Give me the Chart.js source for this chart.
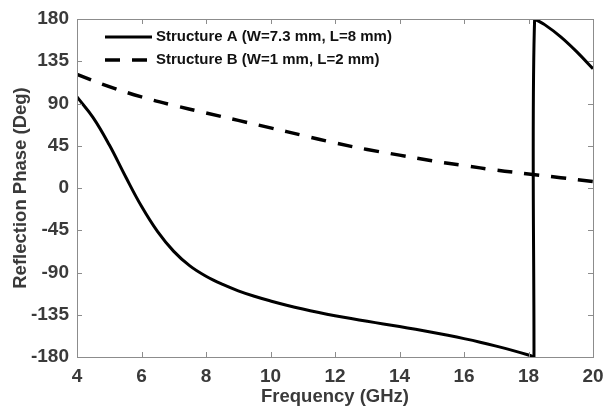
<!DOCTYPE html>
<html>
<head>
<meta charset="utf-8">
<script src="https://cdn.jsdelivr.net/npm/chart.js@4"></script>
<style>
  html, body { margin: 0; padding: 0; background: #fff; }
  #wrap { width: 604px; height: 412px; }
</style>
</head>
<body>
<div id="wrap"><canvas id="chart" width="604" height="412"></canvas></div>
<script>
// Structure A, lower branch: frequency (GHz) and reflection phase (deg) up to the wrap at ~18.2 GHz
const freqA1  = [4.0, 4.5, 5.0, 5.5, 6.0, 6.5, 7.0, 7.5, 8.0, 8.5, 9.0, 9.5, 10.0, 10.5, 11.0, 11.5, 12.0, 12.5, 13.0, 13.5, 14.0, 14.5, 15.0, 15.5, 16.0, 16.5, 17.0, 17.5, 18.0, 18.17];
const phaseA1 = [97, 75, 46, 12.5, -19.5, -46.5, -67.5, -83, -94, -102.5, -109.5, -115.3, -120.3, -124.8, -128.9, -132.6, -136, -139.1, -142, -144.8, -147.6, -150.5, -153.6, -156.9, -160.4, -164.2, -168.4, -172.9, -177.9, -180];

// Structure A, after the wrap (starts with the vertical jump)
const freqA2  = [18.17, 18.19, 18.5, 19.0, 19.5, 20.0];
const phaseA2 = [-180, 180, 174, 161, 145, 127];

// Structure B
const freqB  = [4, 5, 6, 7, 8, 9, 10, 11, 12, 13, 14, 15, 16, 17, 18, 19, 20];
const phaseB = [121, 108, 97, 88, 80, 72, 64, 56, 48, 41, 35, 29, 24, 19, 15, 11, 7];

const xTicks = [4, 6, 8, 10, 12, 14, 16, 18, 20];
const yTicks = [-180, -135, -90, -45, 0, 45, 90, 135, 180];

const labelA = 'Structure A (W=7.3 mm, L=8 mm)';
const labelB = 'Structure B (W=1 mm, L=2 mm)';

const toPoints = (xs, ys) => xs.map((x, i) => ({ x: x, y: ys[i] }));

const axisGray = '#8c8c8c';
const fontFamily = 'Liberation Sans, Arial, sans-serif';
const tickFont = { family: fontFamily, size: 19, weight: 'bold' };
const titleFont = { family: fontFamily, size: 18.5, weight: 'bold' };

// MATLAB-like box with inward ticks on all four sides, plus the legend
const boxPlugin = {
    id: 'box',
    afterDatasetsDraw(chart) {
        const { ctx, chartArea: a, scales } = chart;
        ctx.save();
        ctx.strokeStyle = axisGray;
        ctx.lineWidth = 1;
        ctx.beginPath();
        xTicks.forEach(v => {
            const px = Math.round(scales.x.getPixelForValue(v)) + 0.5;
            ctx.moveTo(px, a.bottom); ctx.lineTo(px, a.bottom - 5);
            ctx.moveTo(px, a.top); ctx.lineTo(px, a.top + 5);
        });
        yTicks.forEach(v => {
            const py = Math.round(scales.y.getPixelForValue(v)) + 0.5;
            ctx.moveTo(a.left, py); ctx.lineTo(a.left + 5, py);
            ctx.moveTo(a.right, py); ctx.lineTo(a.right - 5, py);
        });
        ctx.stroke();
        ctx.strokeRect(Math.round(a.left) + 0.5, Math.round(a.top) + 0.5,
                       Math.round(a.right - a.left), Math.round(a.bottom - a.top));
        ctx.restore();
    },
    afterDraw(chart) {
        const { ctx, chartArea: a } = chart;
        ctx.save();
        ctx.font = 'bold 15px ' + fontFamily;
        ctx.fillStyle = '#111';
        ctx.textBaseline = 'middle';
        chart.data.datasets.filter(ds => !ds.hideInLegend).forEach((ds, i) => {
            const y = a.top + 18 + i * 23;
            const x0 = a.left + 28;
            ctx.strokeStyle = '#000';
            ctx.lineWidth = ds.borderWidth;
            ctx.setLineDash(ds.borderDash || []);
            ctx.beginPath();
            ctx.moveTo(x0, y); ctx.lineTo(x0 + 47, y);
            ctx.stroke();
            ctx.setLineDash([]);
            ctx.fillText(ds.label, x0 + 51, y);
        });
        ctx.restore();
    }
};

new Chart(document.getElementById('chart').getContext('2d'), {
    type: 'line',
    data: {
        datasets: [
            {
                label: labelA,
                data: toPoints(freqA1, phaseA1),
                borderColor: '#000',
                borderWidth: 3,
                pointRadius: 0,
                tension: 0.4,
                fill: false
            },
            {
                label: labelB,
                data: toPoints(freqB, phaseB),
                borderColor: '#000',
                borderWidth: 3.5,
                borderDash: [15, 12],
                pointRadius: 0,
                tension: 0.4,
                fill: false
            },
            {
                label: labelA,
                hideInLegend: true,
                data: toPoints(freqA2, phaseA2),
                borderColor: '#000',
                borderWidth: 3,
                pointRadius: 0,
                tension: 0.3,
                fill: false
            }
        ]
    },
    options: {
        responsive: false,
        animation: false,
        layout: { padding: { top: 19, right: 11, left: 0, bottom: 0 } },
        plugins: {
            legend: { display: false },
            tooltip: { enabled: false }
        },
        scales: {
            x: {
                type: 'linear',
                min: 4, max: 20,
                afterBuildTicks: s => { s.ticks = xTicks.map(v => ({ value: v })); },
                afterFit: s => { s.height = 55; },
                grid: { display: false },
                border: { display: false },
                ticks: { color: '#3a3a3a', font: tickFont, padding: 0 },
                title: {
                    display: true, text: 'Frequency (GHz)', color: '#3a3a3a',
                    font: titleFont, padding: { top: 3 }
                }
            },
            y: {
                min: -180, max: 180,
                afterBuildTicks: s => { s.ticks = yTicks.map(v => ({ value: v })); },
                afterFit: s => { s.width = 77; },
                grid: { display: false },
                border: { display: false },
                ticks: { color: '#3a3a3a', font: tickFont, padding: 0 },
                title: {
                    display: true, text: 'Reflection Phase (Deg)', color: '#3a3a3a',
                    font: titleFont, padding: { top: 10, bottom: 0 }
                }
            }
        }
    },
    plugins: [boxPlugin]
});
</script>
</body>
</html>
